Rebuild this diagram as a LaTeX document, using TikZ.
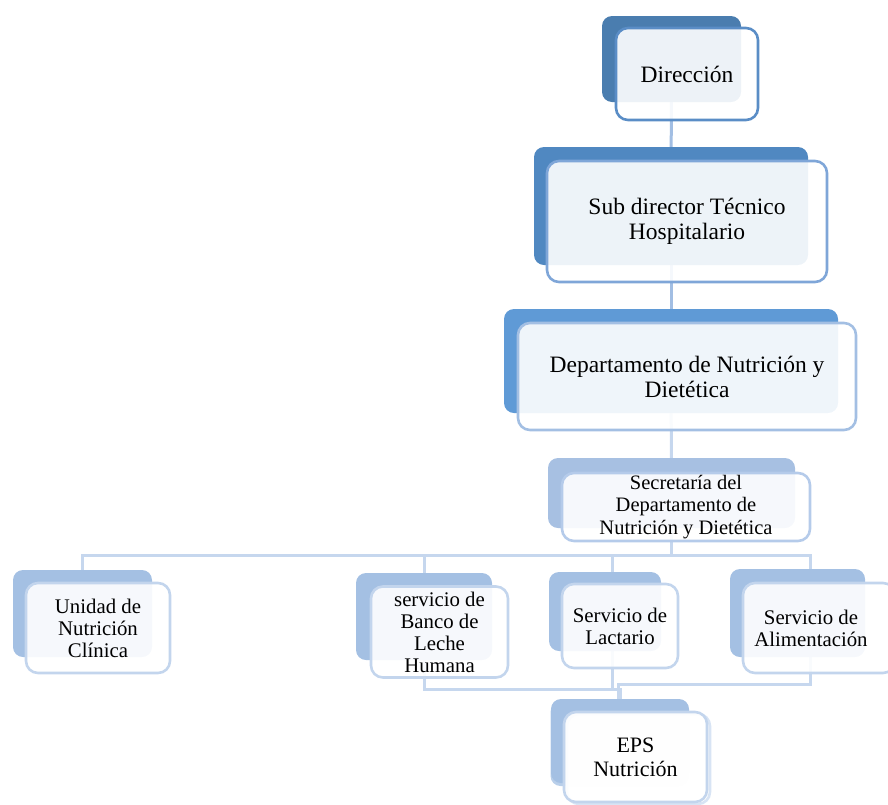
\documentclass[tikz,border=0pt]{standalone}
\usepackage{fontspec}
\setmainfont{Liberation Serif}
\usetikzlibrary{backgrounds}
\definecolor{bkA}{HTML}{4A7DAF}
\definecolor{bkB}{HTML}{5088C1}
\definecolor{bkC}{HTML}{5F9AD6}
\definecolor{bkD}{HTML}{A7C0E2}
\definecolor{bkE}{HTML}{A4C0E3}
\definecolor{bkF}{HTML}{B9CFEA}
\definecolor{brA}{HTML}{5A8DC6}
\definecolor{brB}{HTML}{7FA6D8}
\definecolor{brC}{HTML}{A3BFE3}
\definecolor{brD}{HTML}{B5CBEA}
\definecolor{brE}{HTML}{C3D5ED}
\definecolor{brF}{HTML}{D8E4F4}
\definecolor{lnA}{HTML}{A2BEE3}
\definecolor{lnB}{HTML}{C6D7EE}
\begin{document}
\begin{tikzpicture}[x=1pt,y=-1pt,
  backbox/.style={rectangle, rounded corners=10pt, inner sep=0pt, draw=none},
  frontbox/.style={rectangle, rounded corners=12pt, inner sep=2pt, line width=2.6pt,
    fill=white, fill opacity=0.9, text opacity=1, draw opacity=1, align=center, text=black},
  bigfont/.style={font=\fontsize{23.5}{25}\selectfont},
  midfont/.style={font=\fontsize{20.5}{22.5}\selectfont},
  smallfont/.style={font=\fontsize{20.8}{22}\selectfont},
  epsfont/.style={font=\fontsize{22}{24}\selectfont},
  conn/.style={line width=3pt, draw=lnB},
  connT/.style={line width=3pt, draw=lnA}]
\useasboundingbox (0,0) rectangle (888,804);
\clip (0,0) rectangle (888,804);

% back shapes
\node[backbox, fill=bkA, minimum width=139pt, minimum height=86pt] (dirb) at (671.5,59) {};
\node[backbox, fill=bkB, minimum width=274pt, minimum height=118pt] (subb) at (671,206) {};
\node[backbox, fill=bkC, minimum width=334pt, minimum height=104pt] (depb) at (671,361) {};
\node[backbox, fill=bkD, minimum width=247pt, minimum height=70pt] (secb) at (671.5,493) {};
\node[backbox, fill=bkE, minimum width=139pt, minimum height=87pt] (unib) at (82.5,613.5) {};
\node[backbox, fill=bkE, minimum width=136pt, minimum height=87pt] (banb) at (424,616.5) {};
\node[backbox, fill=bkE, minimum width=112pt, minimum height=79pt] (lacb) at (605,611.5) {};
\node[backbox, fill=bkE, minimum width=135pt, minimum height=88pt] (alib) at (797.5,613) {};
\node[backbox, fill=bkF, minimum width=138pt, minimum height=84pt] (epsb2) at (619.5,744) {};
\node[backbox, fill=bkE, minimum width=138pt, minimum height=84pt] (epsb) at (620,741) {};

% connectors (behind)
\coordinate (bus) at (0,555);
\coordinate (busb) at (620,689);
\coordinate (busc) at (618,684);
\coordinate (lacx) at ([xshift=7pt]lacb.center);
\coordinate (alix) at ([xshift=12.5pt]alib.center);
\begin{pgfonlayer}{background}
\draw[connT] (dirb.center) -- (subb.center);
\draw[connT] (subb.center) -- (depb.center);
\draw[conn] (depb.center) -- (secb.center);
\draw[conn] (secb.center) -- (secb.center |- bus) -| (unib.center);
\draw[conn] (secb.center |- bus) -| (alix);
\draw[conn] (banb.center |- bus) -- (banb.center);
\draw[conn] (lacx |- bus) -- (lacx);
\draw[conn] (banb.center) |- (busb) -- (epsb.center);
\draw[conn] (lacx) -- (lacx |- busb);
\draw[conn] (alix) |- (busc) -- (busc |- epsb.center);
\end{pgfonlayer}

% front shapes with text
\node[frontbox, draw=brA, bigfont, minimum width=142pt, minimum height=92pt] (dir) at (687,74) {Dirección};
\node[frontbox, draw=brB, bigfont, minimum width=280pt, minimum height=121pt] (sub) at (687,221.5) {Sub director Técnico\\Hospitalario};
\node[frontbox, draw=brC, bigfont, minimum width=338pt, minimum height=107pt] (dep) at (687,376.5) {Departamento de Nutrición y\\Dietética};
\node[frontbox, draw=brD, midfont, minimum width=248pt, minimum height=68pt] (sec) at (686,507) {Secretaría del\\Departamento de\\Nutrición y Dietética};
\node[frontbox, draw=brE, smallfont, minimum width=144pt, minimum height=90pt] (uni) at (98,628) {Unidad de\\Nutrición\\Clínica};
\node[frontbox, draw=brE, smallfont, minimum width=137pt, minimum height=91pt] (ban) at (439.5,632) {servicio de\\Banco de\\Leche\\Humana};
\node[frontbox, draw=brE, smallfont, minimum width=116pt, minimum height=84pt] (lac) at (620,626) {Servicio de\\Lactario};
\node[frontbox, draw=brE, minimum width=152pt, minimum height=90pt] (alif) at (819,628) {};
\node[smallfont, align=center, inner sep=0pt] (ali) at (811,628) {Servicio de\\Alimentación};
\node[frontbox, draw=brF, minimum width=143pt, minimum height=90pt] (eps2) at (638.5,759) {};
\node[frontbox, draw=brE, epsfont, minimum width=143pt, minimum height=90pt] (eps) at (635.5,757) {EPS\\Nutrición};
\end{tikzpicture}
\end{document}
